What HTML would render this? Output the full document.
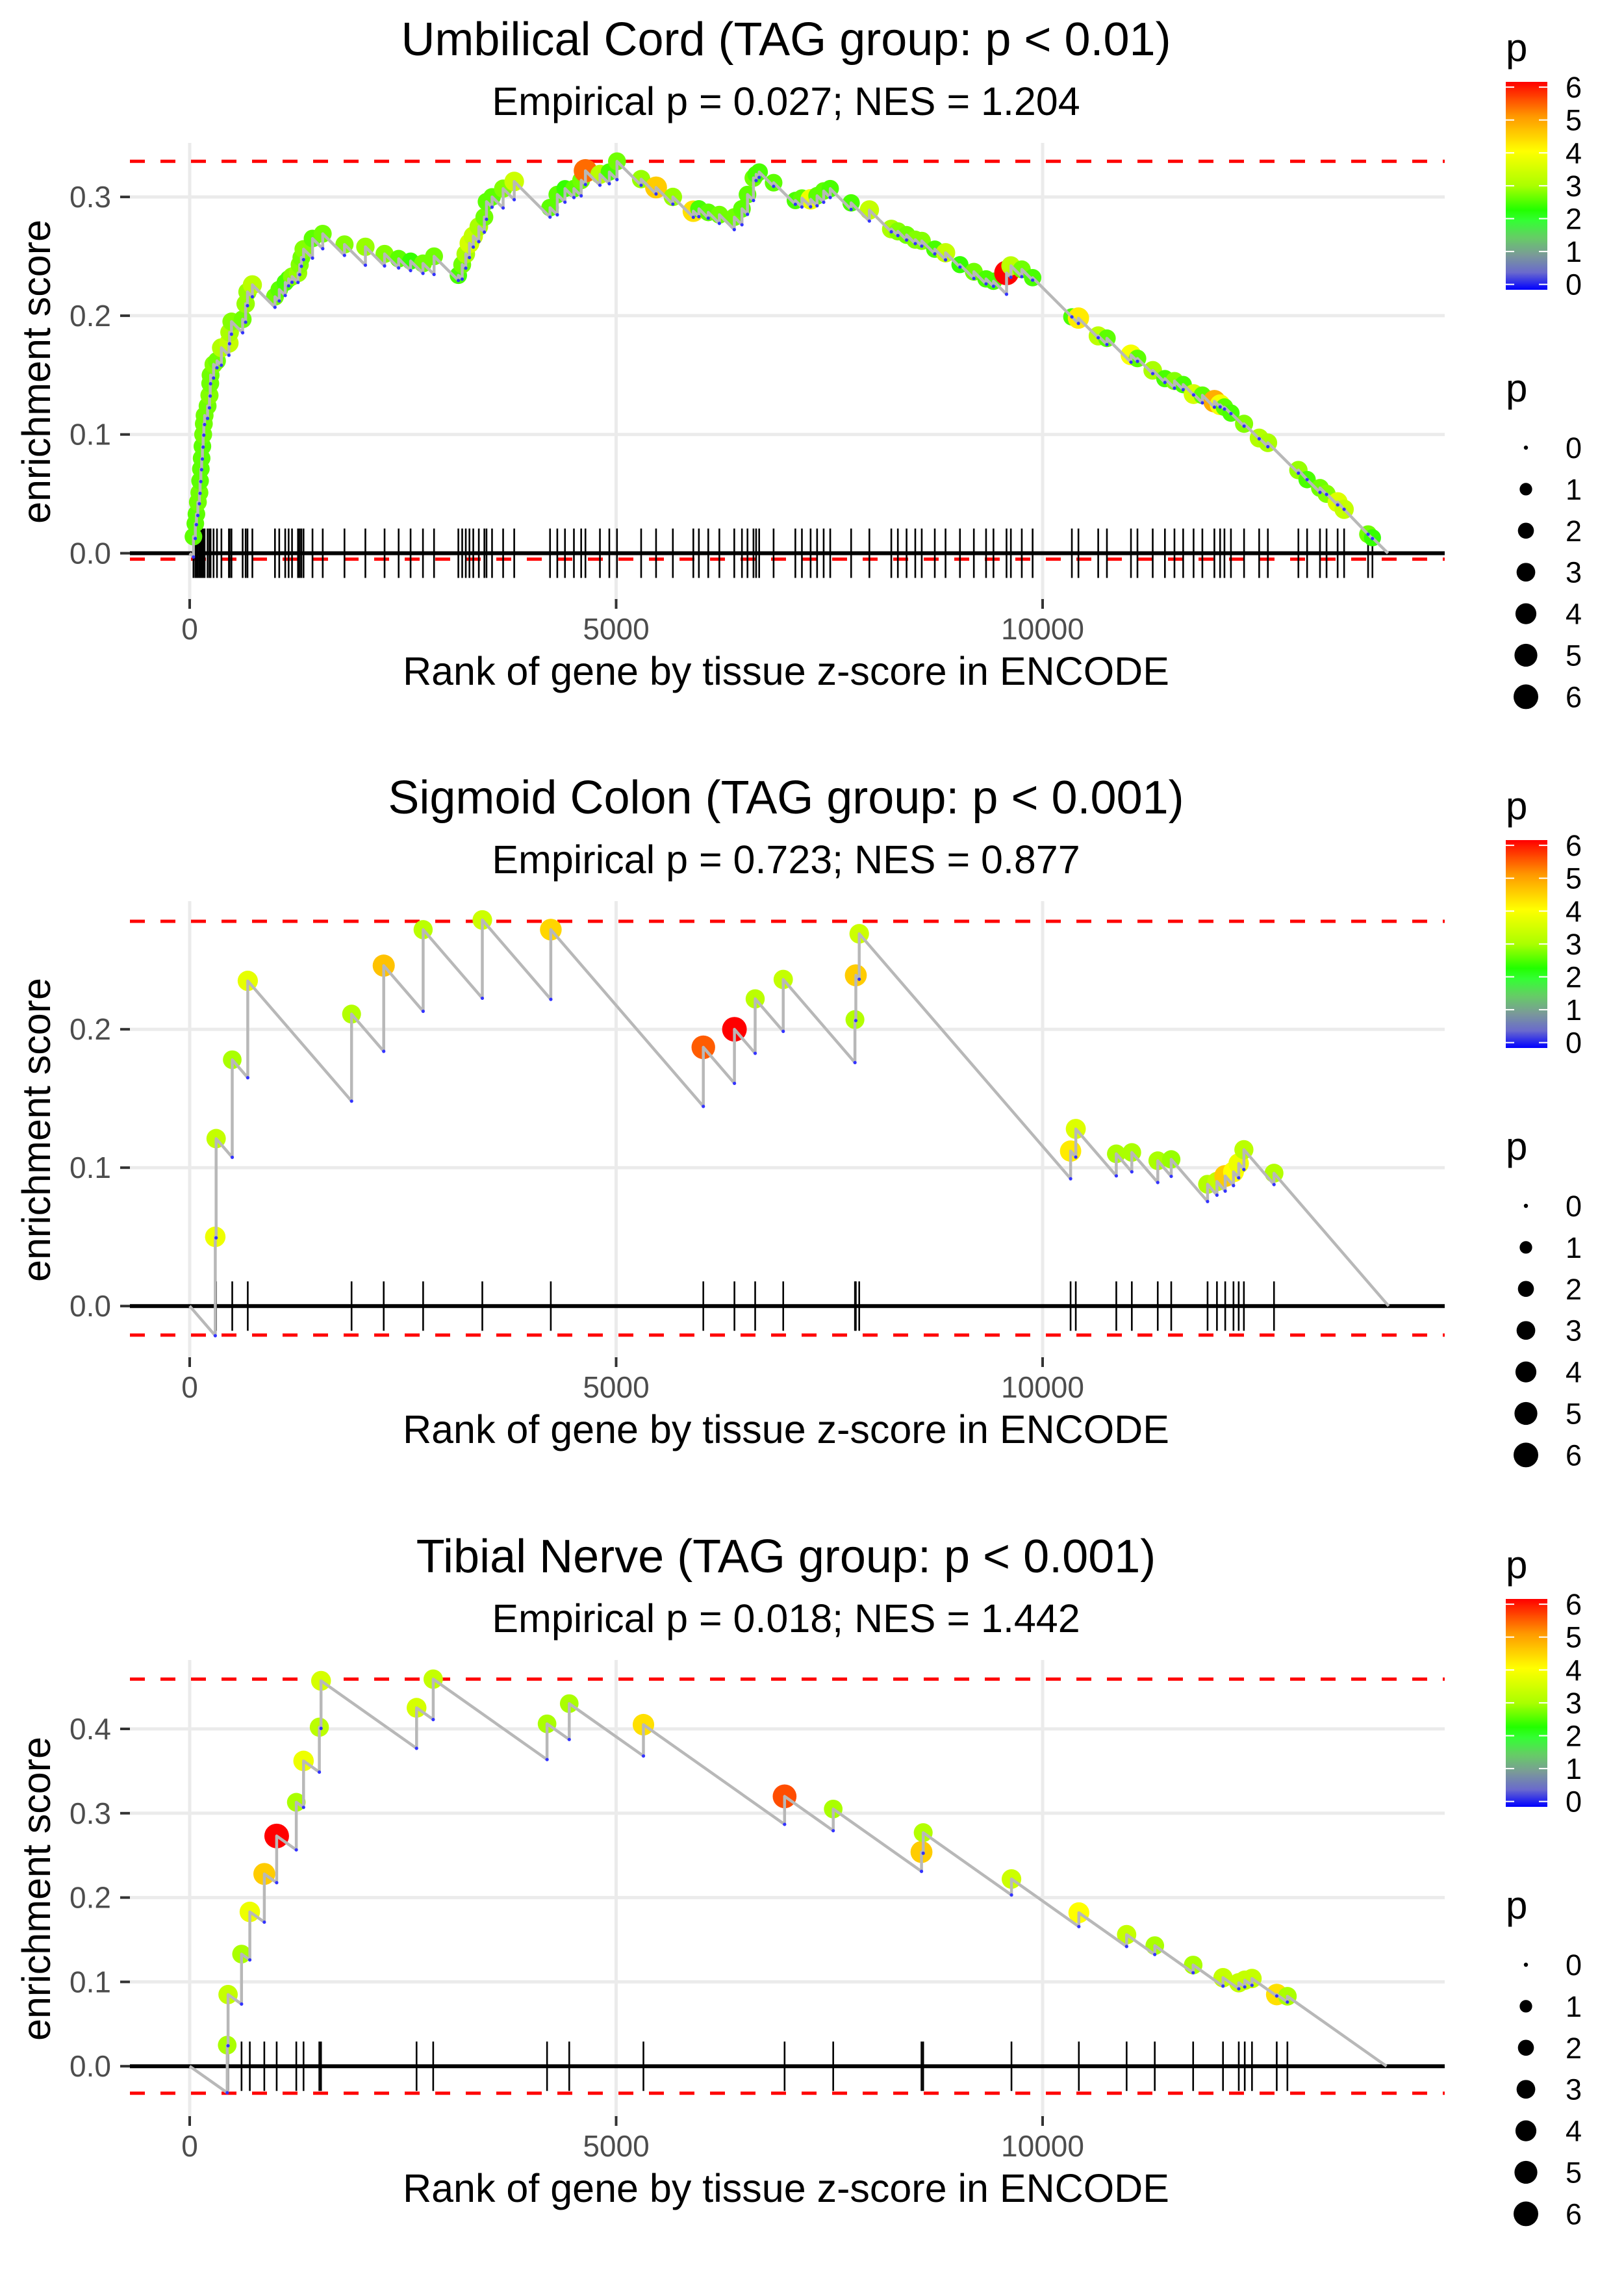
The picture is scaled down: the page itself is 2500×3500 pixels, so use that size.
<!DOCTYPE html>
<html><head><meta charset="utf-8"><style>
html,body{margin:0;padding:0;background:#fff;}
svg{display:block;font-family:"Liberation Sans",Arial,sans-serif;}
</style></head><body>
<svg id="chart" xmlns="http://www.w3.org/2000/svg" width="2500" height="3500" viewBox="0 0 2500 3500"></svg>
<script>
// ---------- data: panel 1 (Umbilical Cord) ----------
const p1Ranks = [44,66,79,96,114,122,131,140,149,158,166,175,210,232,241,245,280,320,372,460,468,490,621,656,678,735,
1000,1050,1120,1160,1200,1270,1290,1310,1335,1440,1560,1815,2060,2285,2450,2590,2735,2865,
3150,3195,3237,3280,3325,3390,3455,3480,3545,3675,3805,4225,4310,4400,4505,4590,4640,4810,4920,5010,
5293,5468,5665,5905,5970,6080,6210,6385,6475,6540,6610,6641,6677,6846,7101,7178,7280,7356,7433,7510,
7755,7969,8226,8303,8405,8507,8583,8736,8862,9031,9194,9337,9424,9577,9628,9756,9883,
10343,10420,10652,10754,11036,11112,11291,11434,11546,11648,11770,11873,12014,12081,12132,12208,12362,12539,12641,
12999,13101,13252,13329,13459,13535,13816,13867];
const p1ES = [0.014,0.025,0.033,0.043,0.051,0.061,0.071,0.080,0.090,0.100,0.109,0.116,0.124,0.133,0.143,0.150,0.159,0.162,0.173,0.177,0.186,0.195,0.197,0.210,0.220,0.226,
0.216,0.222,0.228,0.231,0.233,0.236,0.243,0.249,0.256,0.265,0.269,0.260,0.258,0.252,0.248,0.246,0.244,0.250,
0.234,0.243,0.252,0.261,0.267,0.275,0.283,0.296,0.300,0.307,0.313,0.291,0.302,0.307,0.307,0.314,0.322,0.319,0.321,0.330,
0.315,0.308,0.300,0.288,0.290,0.287,0.285,0.283,0.290,0.302,0.316,0.319,0.321,0.312,0.297,0.299,0.298,0.301,0.305,0.307,
0.295,0.289,0.273,0.271,0.268,0.264,0.263,0.256,0.253,0.243,0.237,0.231,0.229,0.236,0.242,0.239,0.232,
0.199,0.198,0.183,0.181,0.167,0.164,0.154,0.147,0.145,0.142,0.134,0.133,0.128,0.125,0.123,0.118,0.109,0.097,0.093,
0.070,0.062,0.055,0.050,0.043,0.037,0.016,0.013];
const p1P = [2.6,2.6,2.6,2.7,2.7,2.6,2.6,2.6,2.6,2.7,2.7,2.7,2.7,2.8,2.7,2.7,2.8,2.7,3.1,3.3,3.0,2.8,2.7,2.9,2.9,3.2,
2.7,2.6,2.5,2.5,2.8,2.9,2.8,2.7,2.8,2.6,2.7,2.8,2.9,2.8,2.6,2.4,2.7,2.7,
2.5,2.7,3.0,3.5,3.3,3.0,2.7,2.6,2.6,2.8,3.4,2.6,2.6,2.4,2.6,2.7,5.3,3.2,2.5,2.7,
2.9,4.5,2.9,4.3,2.5,2.6,2.7,2.7,2.6,2.6,2.7,2.5,2.5,2.6,2.5,2.6,3.8,2.6,2.6,2.5,
2.5,3.3,3.0,2.8,2.7,2.8,2.8,2.5,3.3,2.4,2.7,2.5,2.5,6.0,3.2,2.7,2.5,
2.5,4.2,3.2,2.6,3.9,2.6,3.0,2.5,2.8,2.5,3.5,2.6,4.8,3.9,2.6,2.5,2.8,3.1,3.0,
2.9,2.5,2.7,2.8,3.6,3.3,2.7,2.4];
// ---------- data: panel 2 (Sigmoid Colon) ----------
const p2Ranks = [300,310,499,681,1898,2275,2737,3431,4234,6022,6387,6630,6959,7800,7810,7850,10328,10389,10864,11046,11350,11508,11934,12044,12141,12238,12299,12360,12713];
const p2ES = [0.050,0.121,0.178,0.235,0.211,0.246,0.272,0.279,0.272,0.187,0.200,0.222,0.236,0.207,0.239,0.269,0.112,0.128,0.110,0.111,0.105,0.106,0.088,0.090,0.094,0.097,0.103,0.113,0.096];
const p2P = [3.8,3.3,3.0,3.7,3.1,4.6,3.2,3.4,4.4,5.4,6.0,3.2,3.3,3.1,4.5,3.4,4.2,3.6,3.0,3.0,3.0,2.9,3.1,3.3,4.5,4.0,3.8,3.2,3.1];
// ---------- data: panel 3 (Tibial Nerve) ----------
const p3Ranks = [440,450,608,705,875,1020,1250,1335,1520,1540,2660,2855,4190,4450,5320,6975,7545,8580,8600,9635,10425,10985,11315,11765,12115,12300,12370,12455,12745,12870];
const p3ES = [0.025,0.085,0.133,0.183,0.228,0.273,0.313,0.362,0.402,0.457,0.425,0.459,0.406,0.430,0.405,0.320,0.305,0.254,0.277,0.222,0.182,0.156,0.143,0.120,0.105,0.099,0.102,0.104,0.085,0.083];
const p3P = [3.0,3.3,3.0,3.8,4.5,6.0,3.0,3.8,3.2,3.5,3.5,3.3,3.0,3.0,4.3,5.5,3.0,4.5,3.1,3.4,4.0,3.3,3.0,3.0,3.3,3.3,3.3,3.3,4.3,3.0];
// ---------- axis/labels ----------
const xTicks = [0,5000,10000];
const p1YTicks = [0.0,0.1,0.2,0.3];
const p2YTicks = [0.0,0.1,0.2];
const p3YTicks = [0.0,0.1,0.2,0.3,0.4];
const legendTicks = [0,1,2,3,4,5,6];
const titles = ["Umbilical Cord (TAG group: p < 0.01)","Sigmoid Colon (TAG group: p < 0.001)","Tibial Nerve (TAG group: p < 0.001)"];
const subtitles = ["Empirical p = 0.027; NES = 1.204","Empirical p = 0.723; NES = 0.877","Empirical p = 0.018; NES = 1.442"];
const esMax = [0.330,0.278,0.459];
const esMin = [-0.005,-0.021,-0.032];
const nGenes = 14000;

const NS="http://www.w3.org/2000/svg";
const svg=document.getElementById('chart');
function el(tag,attrs,parent){const e=document.createElementNS(NS,tag);for(const k in attrs)e.setAttribute(k,attrs[k]);(parent||svg).appendChild(e);return e;}
const stops=[[0,[0,0,255]],[0.5,[106,106,205]],[1,[122,154,152]],[1.5,[102,204,102]],[2,[51,255,51]],[2.3,[34,255,0]],[3,[170,255,0]],[4,[255,255,0]],[5,[255,153,0]],[6,[255,0,0]]];
function pColor(p){p=Math.max(0,Math.min(6,p));for(let i=1;i<stops.length;i++){if(p<=stops[i][0]){const a=stops[i-1],b=stops[i];const t=(p-a[0])/(b[0]-a[0]);const c=a[1].map((v,j)=>Math.round(v+(b[1][j]-v)*t));return 'rgb('+c.join(',')+')';}}return 'rgb(255,0,0)';}
function pRad(p){return 3.2+15.8*Math.sqrt(Math.max(0,p)/6);}

const defs=el('defs',{});
const lg=el('linearGradient',{id:'cbar',x1:'0',y1:'1',x2:'0',y2:'0'},defs);
for(let v=0;v<=60;v++){el('stop',{offset:(v/60).toFixed(3),'stop-color':pColor(v/10)},lg);}

const panels=[
 {ranks:p1Ranks,es:p1ES,p:p1P,yt:p1YTicks,off:0,y0:851.5,per:1828},
 {ranks:p2Ranks,es:p2ES,p:p2P,yt:p2YTicks,off:1167,y0:2010.2,per:2130},
 {ranks:p3Ranks,es:p3ES,p:p3P,yt:p3YTicks,off:2335,y0:3180.2,per:1298}
];
const X0=292, XPER=0.1313, PL=200, PR=2224;
function xs(r){return X0+r*XPER;}

panels.forEach((pn,pi)=>{
 const off=pn.off;
 const ys=v=>pn.y0-v*pn.per;
 const g=el('g',{});
 
 
 const top=220+off, bot=925+off;
 const t=el('text',{x:1210,y:85+off,'font-size':72,'text-anchor':'middle',fill:'#000'},g);
 t.textContent=titles[pi];
 
 
 const st=el('text',{x:1210,y:177+off,'font-size':61,'text-anchor':'middle',fill:'#000'},g);
 st.textContent=subtitles[pi];
 
 
 pn.yt.forEach(v=>{
  const l=el('line',{x1:PL,x2:PR,y1:ys(v),y2:ys(v),stroke:'#ebebeb','stroke-width':5},g);
  
  
 });
 xTicks.forEach(v=>{
  const l=el('line',{x1:xs(v),x2:xs(v),y1:top,y2:bot,stroke:'#ebebeb','stroke-width':5},g);
  
  
 });
 [esMax[pi],esMin[pi]].forEach(v=>{
  const l=el('line',{x1:PL,x2:PR,y1:ys(v),y2:ys(v),stroke:'#ff0000','stroke-width':5,'stroke-dasharray':'23 24'},g);
  
  
 });
 pn.ranks.forEach(r=>{
  const l=el('line',{x1:xs(r),x2:xs(r),y1:pn.y0-38,y2:pn.y0+38,stroke:'#000','stroke-width':2.6},g);
  
  
 });
 const z=el('line',{x1:PL,x2:PR,y1:pn.y0,y2:pn.y0,stroke:'#000','stroke-width':6},g);
 
 
 let d='M'+xs(0)+','+ys(0);
 let prevR=0, prevE=0; const pres=[];
 pn.ranks.forEach((r,i)=>{
  let pre=prevE-(r-prevR)/nGenes; if(pre>pn.es[i]) pre=pn.es[i];
  pres.push(pre);
  d+=' L'+xs(r).toFixed(1)+','+ys(pre).toFixed(1)+' L'+xs(r).toFixed(1)+','+ys(pn.es[i]).toFixed(1);
  prevR=r; prevE=pn.es[i];
 });
 const endR=prevR+prevE*nGenes;
 d+=' L'+xs(endR).toFixed(1)+','+ys(0);
 pn.ranks.forEach((r,i)=>{
  const c=el('circle',{cx:xs(r),cy:ys(pn.es[i]),r:pRad(pn.p[i]),fill:pColor(pn.p[i])},g);
  
  
 });
 const path=el('path',{d:d,fill:'none',stroke:'#b8b8b8','stroke-width':4.5,'stroke-linejoin':'round'},g);
 
 
 pn.ranks.forEach((r,i)=>{
  const c=el('circle',{cx:xs(r),cy:ys(pres[i]),r:2.6,fill:'#3333ff'},g);
  
  
 });
 pn.yt.forEach(v=>{
  const tk=el('line',{x1:185,x2:200,y1:ys(v),y2:ys(v),stroke:'#333','stroke-width':4},g);
  
  
  const tl=el('text',{x:171,y:ys(v)+16,'font-size':46,'text-anchor':'end',fill:'#4d4d4d'},g);
  tl.textContent=v.toFixed(1);
  
  
 });
 xTicks.forEach(v=>{
  const tk=el('line',{x1:xs(v),x2:xs(v),y1:922+off,y2:937+off,stroke:'#333','stroke-width':4},g);
  
  
  const tl=el('text',{x:xs(v),y:984+off,'font-size':46,'text-anchor':'middle',fill:'#4d4d4d'},g);
  tl.textContent=String(v);
  
  
 });
 const xl=el('text',{x:1210,y:1054+off,'font-size':61,'text-anchor':'middle',fill:'#000'},g);
 xl.textContent='Rank of gene by tissue z-score in ENCODE';
 
 
 const yl=el('text',{x:0,y:0,'font-size':61,'text-anchor':'middle',fill:'#000',transform:'translate(77,'+(572+off)+') rotate(-90)'},g);
 yl.textContent='enrichment score';
 
 
 const lt=el('text',{x:2318,y:94+off,'font-size':60,fill:'#000'},g);
 lt.textContent='p';
 
 
 const cb=el('rect',{x:2318,y:126+off,width:64,height:320,fill:'url(#cbar)'},g);
 
 
 legendTicks.forEach(v=>{
  const yy=437.7+off-v*50.6;
  el('line',{x1:2318,x2:2331,y1:yy,y2:yy,stroke:'#fff','stroke-width':2},g);
  el('line',{x1:2369,x2:2382,y1:yy,y2:yy,stroke:'#fff','stroke-width':2},g);
  const tl=el('text',{x:2410,y:yy+16,'font-size':45,fill:'#000'},g);
  tl.textContent=String(v);
  
  
 });
 const st2=el('text',{x:2318,y:618+off,'font-size':60,fill:'#000'},g);
 st2.textContent='p';
 
 
 legendTicks.forEach((v,i)=>{
  const yy=689+off+i*63.9;
  const c=el('circle',{cx:2349,cy:yy,r:pRad(v),fill:'#000'},g);
  
  
  const tl=el('text',{x:2410,y:yy+16,'font-size':45,fill:'#000'},g);
  tl.textContent=String(v);
  
  
 });
});
</script>
</body></html>
